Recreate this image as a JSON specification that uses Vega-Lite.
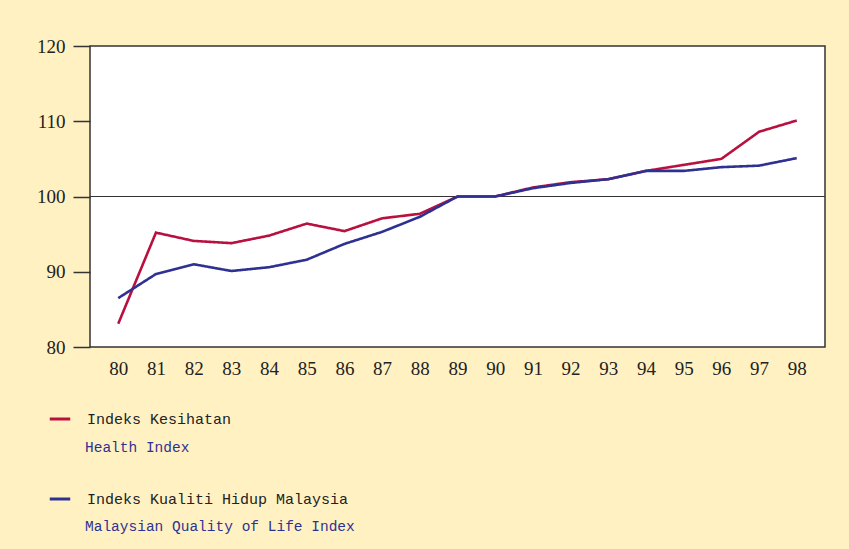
{
  "$schema": "https://vega.github.io/schema/vega-lite/v6.json",
  "autosize": {"type": "none"},
  "width": 735,
  "height": 301,
  "padding": {"left": 90, "top": 46, "right": 24, "bottom": 202},
  "background": "#FFF1C2",
  "config": {
    "view": {"fill": "white", "stroke": "#333333", "strokeWidth": 1.5},
    "axis": {"labelFont": "Liberation Serif", "labelColor": "#222222", "grid": false}
  },
  "data": {"values": [
    {"year": "80", "value": 83.1, "series": "Indeks Kesihatan", "series2": "Health Index"},
    {"year": "81", "value": 95.2, "series": "Indeks Kesihatan", "series2": "Health Index"},
    {"year": "82", "value": 94.1, "series": "Indeks Kesihatan", "series2": "Health Index"},
    {"year": "83", "value": 93.8, "series": "Indeks Kesihatan", "series2": "Health Index"},
    {"year": "84", "value": 94.8, "series": "Indeks Kesihatan", "series2": "Health Index"},
    {"year": "85", "value": 96.4, "series": "Indeks Kesihatan", "series2": "Health Index"},
    {"year": "86", "value": 95.4, "series": "Indeks Kesihatan", "series2": "Health Index"},
    {"year": "87", "value": 97.1, "series": "Indeks Kesihatan", "series2": "Health Index"},
    {"year": "88", "value": 97.7, "series": "Indeks Kesihatan", "series2": "Health Index"},
    {"year": "89", "value": 100.0, "series": "Indeks Kesihatan", "series2": "Health Index"},
    {"year": "90", "value": 100.0, "series": "Indeks Kesihatan", "series2": "Health Index"},
    {"year": "91", "value": 101.2, "series": "Indeks Kesihatan", "series2": "Health Index"},
    {"year": "92", "value": 101.9, "series": "Indeks Kesihatan", "series2": "Health Index"},
    {"year": "93", "value": 102.3, "series": "Indeks Kesihatan", "series2": "Health Index"},
    {"year": "94", "value": 103.4, "series": "Indeks Kesihatan", "series2": "Health Index"},
    {"year": "95", "value": 104.2, "series": "Indeks Kesihatan", "series2": "Health Index"},
    {"year": "96", "value": 105.0, "series": "Indeks Kesihatan", "series2": "Health Index"},
    {"year": "97", "value": 108.6, "series": "Indeks Kesihatan", "series2": "Health Index"},
    {"year": "98", "value": 110.1, "series": "Indeks Kesihatan", "series2": "Health Index"},
    {"year": "80", "value": 86.5, "series": "Indeks Kualiti Hidup Malaysia", "series2": "Malaysian Quality of Life Index"},
    {"year": "81", "value": 89.7, "series": "Indeks Kualiti Hidup Malaysia", "series2": "Malaysian Quality of Life Index"},
    {"year": "82", "value": 91.0, "series": "Indeks Kualiti Hidup Malaysia", "series2": "Malaysian Quality of Life Index"},
    {"year": "83", "value": 90.1, "series": "Indeks Kualiti Hidup Malaysia", "series2": "Malaysian Quality of Life Index"},
    {"year": "84", "value": 90.6, "series": "Indeks Kualiti Hidup Malaysia", "series2": "Malaysian Quality of Life Index"},
    {"year": "85", "value": 91.6, "series": "Indeks Kualiti Hidup Malaysia", "series2": "Malaysian Quality of Life Index"},
    {"year": "86", "value": 93.7, "series": "Indeks Kualiti Hidup Malaysia", "series2": "Malaysian Quality of Life Index"},
    {"year": "87", "value": 95.3, "series": "Indeks Kualiti Hidup Malaysia", "series2": "Malaysian Quality of Life Index"},
    {"year": "88", "value": 97.3, "series": "Indeks Kualiti Hidup Malaysia", "series2": "Malaysian Quality of Life Index"},
    {"year": "89", "value": 100.0, "series": "Indeks Kualiti Hidup Malaysia", "series2": "Malaysian Quality of Life Index"},
    {"year": "90", "value": 100.0, "series": "Indeks Kualiti Hidup Malaysia", "series2": "Malaysian Quality of Life Index"},
    {"year": "91", "value": 101.1, "series": "Indeks Kualiti Hidup Malaysia", "series2": "Malaysian Quality of Life Index"},
    {"year": "92", "value": 101.8, "series": "Indeks Kualiti Hidup Malaysia", "series2": "Malaysian Quality of Life Index"},
    {"year": "93", "value": 102.3, "series": "Indeks Kualiti Hidup Malaysia", "series2": "Malaysian Quality of Life Index"},
    {"year": "94", "value": 103.4, "series": "Indeks Kualiti Hidup Malaysia", "series2": "Malaysian Quality of Life Index"},
    {"year": "95", "value": 103.4, "series": "Indeks Kualiti Hidup Malaysia", "series2": "Malaysian Quality of Life Index"},
    {"year": "96", "value": 103.9, "series": "Indeks Kualiti Hidup Malaysia", "series2": "Malaysian Quality of Life Index"},
    {"year": "97", "value": 104.1, "series": "Indeks Kualiti Hidup Malaysia", "series2": "Malaysian Quality of Life Index"},
    {"year": "98", "value": 105.1, "series": "Indeks Kualiti Hidup Malaysia", "series2": "Malaysian Quality of Life Index"}
  ]},
  "layer": [
    {
      "mark": {"type": "rule", "color": "#333333", "strokeWidth": 1.2},
      "encoding": {"y": {"datum": 100, "type": "quantitative"}}
    },
    {
      "mark": {"type": "line", "strokeWidth": 2.6},
      "encoding": {
        "x": {
          "field": "year", "type": "ordinal",
          "scale": {"type": "point", "padding": 0.75},
          "axis": {"title": null, "labelAngle": 0, "ticks": false, "domain": false, "labelFontSize": 19, "labelPadding": 12}
        },
        "y": {
          "field": "value", "type": "quantitative",
          "scale": {"domain": [80, 120], "zero": false, "nice": false},
          "axis": {"title": null, "values": [80, 90, 100, 110, 120], "domain": false, "tickSize": 17, "tickColor": "#333333", "tickWidth": 1.5, "labelFontSize": 19, "labelPadding": 8}
        },
        "color": {
          "field": "series", "type": "nominal",
          "scale": {"domain": ["Indeks Kesihatan", "Indeks Kualiti Hidup Malaysia"], "range": ["#B8103F", "#2E3192"]},
          "legend": {
            "orient": "none", "legendX": -42, "legendY": 361, "direction": "vertical",
            "title": null, "padding": 0, "symbolType": "stroke", "symbolSize": 420, "symbolStrokeWidth": 3,
            "labelFont": "Liberation Mono", "labelFontSize": 15, "labelColor": "#222222", "labelOffset": 15,
            "rowPadding": 60, "labelLimit": 400
          }
        },
        "strokeDash": {
          "field": "series2", "type": "nominal",
          "scale": {"domain": ["Health Index", "Malaysian Quality of Life Index"], "range": [[1, 0], [1, 0]]},
          "legend": {
            "orient": "none", "legendX": -43, "legendY": 392, "direction": "vertical",
            "title": null, "padding": 0, "symbolType": "stroke", "symbolSize": 400, "symbolOpacity": 0, "symbolStrokeWidth": 0,
            "labelFont": "Liberation Mono", "labelFontSize": 14.5, "labelColor": "#2E3192", "labelOffset": 18,
            "rowPadding": 62, "labelLimit": 400
          }
        }
      }
    }
  ]
}
